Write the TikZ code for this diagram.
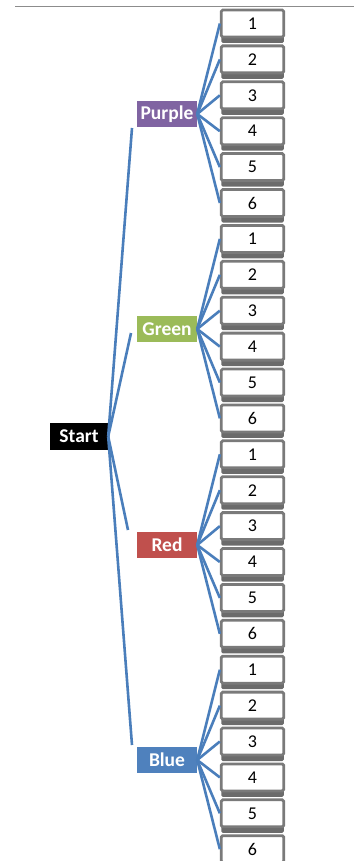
\documentclass[tikz,border=0pt]{standalone}
\usepackage{fontspec}
\setmainfont{Carlito}
\usetikzlibrary{shadows}
\definecolor{lineblue}{HTML}{4A7EBB}
\definecolor{catpurple}{HTML}{8064A2}
\definecolor{catgreen}{HTML}{9BBB59}
\definecolor{catred}{HTML}{C0504D}
\definecolor{catblue}{HTML}{4F81BD}
\begin{document}
\begin{tikzpicture}[x=1pt,y=-1pt,
  numbox/.style={draw=black!52, fill=white, line width=2.8pt, rounded corners=1.5pt,
    minimum width=62.5pt, minimum height=27pt, inner sep=0pt,
    font=\fontsize{18}{18}\selectfont,
    drop shadow={shadow xshift=0pt, shadow yshift=-6pt, fill=black!58, opacity=1}},
  cat/.style={minimum width=60pt, minimum height=26pt, inner sep=0pt, text=white,
    font=\fontsize{19.5}{19.5}\selectfont\bfseries},
  conn/.style={draw=lineblue, line width=2.6pt},
]
\useasboundingbox (0,0) rectangle (354,861);
\draw[black!45, line width=1pt] (15,7) -- (354,7);
\node[cat, fill=black, minimum width=58pt, minimum height=27pt] (S) at (79,436.5) {Start};
\foreach \c/\col/\lab/\cy [count=\g from 0] in {P/catpurple/Purple/114, G/catgreen/Green/329, R/catred/Red/545, B/catblue/Blue/760} {
  \node[cat, fill=\col] (\c) at (167,\cy) {\lab};
  \foreach \k in {1,...,6} {
    \pgfmathsetmacro\yy{23.5+35.9*(\g*6+\k-1)}
    \node[numbox] (\c\k) at (252.5,\yy) {\k};
    \draw[conn] (\c.east) -- (\c\k.west);
  }
}
\coordinate (Pe) at (132,128);
\coordinate (Ge) at (131,333);
\coordinate (Re) at (128,530);
\coordinate (Be) at (132,745);
\foreach \e in {Pe,Ge,Re,Be} \draw[conn] (S.east) -- (\e);
\end{tikzpicture}
\end{document}
